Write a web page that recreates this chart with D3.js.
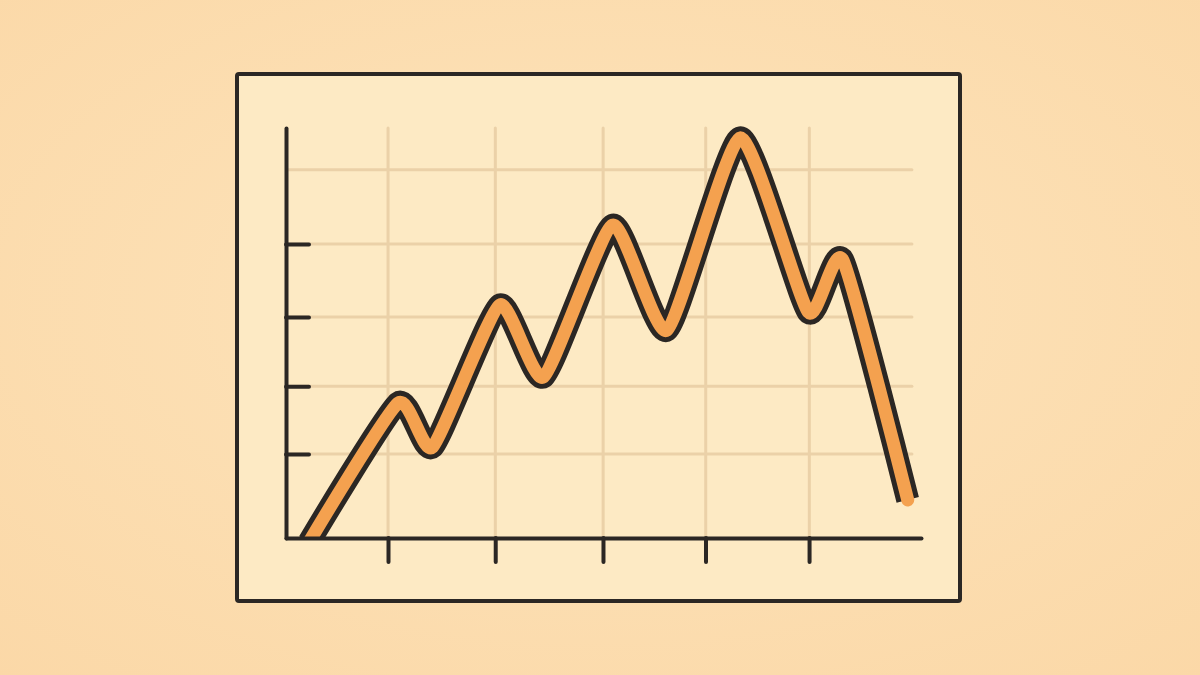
<!DOCTYPE html>
<html>
<head>
<meta charset="utf-8">
<script src="https://cdn.jsdelivr.net/npm/d3@7"></script>
<style>
  html, body { margin:0; padding:0; }
  body { width:1200px; height:675px; overflow:hidden; }
</style>
</head>
<body>
<div class="svg-container"></div>
<script>
//data (x in grid columns, y in arbitrary units)
const xs = [0.22, 1.07, 1.40, 2.04, 2.46, 3.12, 3.64, 4.34, 4.99, 5.32, 5.94];
const ys = [-0.1, 3.29, 2.22, 5.68, 3.93, 7.63, 5.07, 9.76, 5.51, 6.78, 0.93];
const xTicks = [0.975, 2.0, 3.03, 4.01, 5.0];
const yTicks = [2.05, 3.7, 5.39, 7.17];
const yGrid = [2.05, 3.7, 5.39, 7.17, 8.98];

const width = 1200, height = 675;
const ink = '#2b2724';

const svg = d3.select('.svg-container')
    .append('svg')
    .attr('width', width)
    .attr('height', height);

//peach background
const defs = svg.append('defs');
const grad = defs.append('radialGradient')
    .attr('id', 'bg').attr('cx', '50%').attr('cy', '45%').attr('r', '75%');
grad.append('stop').attr('offset', '0%').attr('stop-color', '#fde4bc');
grad.append('stop').attr('offset', '100%').attr('stop-color', '#fbd8a7');
svg.append('rect').attr('width', width).attr('height', height).attr('fill', 'url(#bg)');

//panel
svg.append('rect')
    .attr('x', 237).attr('y', 74)
    .attr('width', 723).attr('height', 527)
    .attr('rx', 2)
    .attr('fill', '#fdeac4')
    .attr('stroke', ink)
    .attr('stroke-width', 4);

//scales
const xScale = d3.scaleLinear().domain([0, 6]).range([286, 914]);
const yScale = d3.scaleLinear().domain([0, 10]).range([538, 128]);

//grid
svg.selectAll('.vgrid')
    .data(xTicks)
    .join('line')
    .attr('class', 'vgrid')
    .attr('x1', d => xScale(d)).attr('x2', d => xScale(d))
    .attr('y1', yScale(10)).attr('y2', yScale(0))
    .attr('stroke', '#ebd1a8').attr('stroke-width', 3).attr('stroke-linecap', 'round');

svg.selectAll('.hgrid')
    .data(yGrid)
    .join('line')
    .attr('class', 'hgrid')
    .attr('x1', xScale(0) + 2).attr('x2', xScale(5.98))
    .attr('y1', d => yScale(d)).attr('y2', d => yScale(d))
    .attr('stroke', '#ebd1a8').attr('stroke-width', 3).attr('stroke-linecap', 'round');

//line, clipped at the x axis
defs.append('clipPath').attr('id', 'plot')
    .append('rect')
    .attr('x', xScale(0)).attr('y', 0)
    .attr('width', 700).attr('height', yScale(0));

const line = d3.line()
    .x(d => xScale(d[0]))
    .y(d => yScale(d[1]))
    .curve(d3.curveCardinal.tension(0.45));
const pts = xs.map((x, i) => [x, ys[i]]);

const lg = svg.append('g').attr('clip-path', 'url(#plot)');
lg.append('path')
    .attr('d', line(pts))
    .attr('fill', 'none')
    .attr('stroke', ink)
    .attr('stroke-width', 23)
    .attr('stroke-linejoin', 'round');

lg.append('path')
    .attr('d', line(pts))
    .attr('fill', 'none')
    .attr('stroke', '#f4a14f')
    .attr('stroke-width', 13)
    .attr('stroke-linejoin', 'round')
    .attr('stroke-linecap', 'round');

//axes
const xAxis = d3.axisBottom(xScale.copy().domain([0, 6.07]).range([286, 921]))
    .tickValues(xTicks)
    .tickSize(24).tickSizeOuter(0).tickFormat('');
const yAxis = d3.axisLeft(yScale)
    .tickValues(yTicks)
    .tickSize(-23).tickSizeOuter(0).tickFormat('');

[svg.append('g').attr('transform', 'translate(0,538)').call(xAxis),
 svg.append('g').attr('transform', 'translate(286,0)').call(yAxis)]
    .forEach(g => {
        g.selectAll('path, line')
            .attr('stroke', ink)
            .attr('stroke-width', 4)
            .attr('stroke-linecap', 'round');
        g.select('.domain').attr('fill', 'none');
    });
</script>
</body>
</html>
